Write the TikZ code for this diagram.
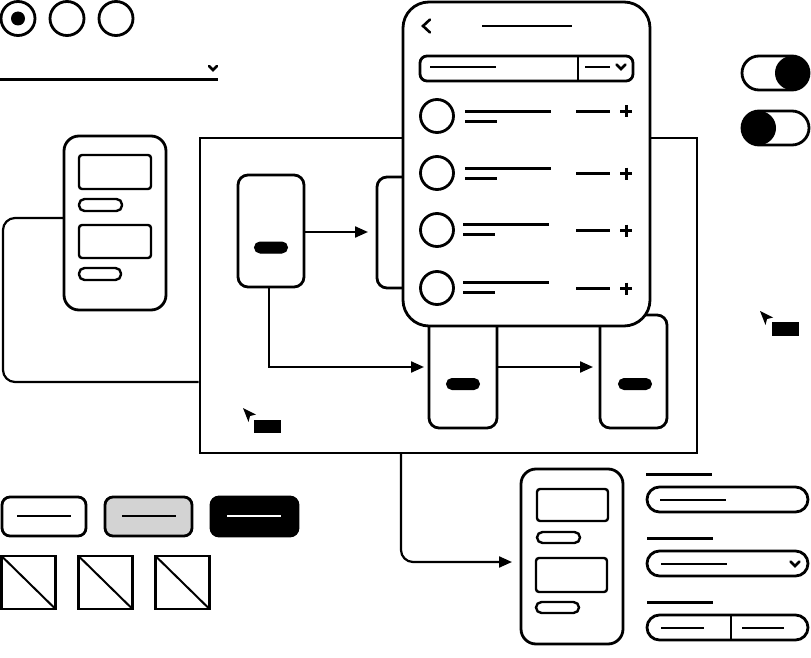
\documentclass[tikz,border=0pt]{standalone}
\usetikzlibrary{arrows.meta}
\begin{document}
\begin{tikzpicture}[x=1pt,y=-1pt,
  thick3/.style={line width=2.8pt},
  thin2/.style={line width=2.4pt},
  box/.style={draw, line width=2.8pt, fill=white, inner sep=0pt, outer sep=0pt},
  card/.style={box, rounded corners=10pt},
  phone/.style={box, rounded corners=15pt},
  panelbox/.style={box, rounded corners=26pt},
  inrect/.style={box, line width=2.4pt, rounded corners=3pt},
  inpill/.style={box, line width=2.4pt, rounded corners=5.5pt},
  blkpill/.style={draw, fill=black, line width=1pt, rounded corners=5.5pt, inner sep=0pt, minimum width=33pt, minimum height=11pt},
  conn/.style={line width=2.2pt, -{Triangle[length=13pt,width=11pt]}},
  plainconn/.style={line width=2.2pt},
  radio/.style={draw, circle, line width=2.8pt, minimum size=34pt, inner sep=0pt},
  field/.style={box, rounded corners=12.5pt, minimum width=161pt, minimum height=25pt},
  btn/.style={box, rounded corners=8pt, minimum height=39pt},
  imgbox/.style={box, minimum width=54pt, minimum height=53pt},
  chev/.style={line width=2.6pt, line cap=round, line join=miter}
]
\useasboundingbox (0,0) rectangle (811,658);

% radio buttons
\node[radio] (r1) at (18,18.5) {};
\node[radio] (r2) at (67,18.5) {};
\node[radio] (r3) at (116,18.5) {};
\fill (r1.center) circle (7pt);

% underline dropdown
\draw[thick3] (0,79.5) -- (218,79.5);
\draw[chev] (209,66) -- (213,70) -- (217,66);

% toggles
\node[box, rounded corners=17pt, minimum width=67pt, minimum height=34pt] (t1) at (775.5,73) {};
\fill (792,73) circle (17pt);
\node[box, rounded corners=17pt, minimum width=67pt, minimum height=34pt] (t2) at (775.5,128) {};
\fill (759,128) circle (17pt);

% main frame
\node[draw, line width=2.8pt, inner sep=0pt, minimum width=497pt, minimum height=315pt] (F) at (448.5,295.5) {};

% left phone
\node[phone, minimum width=102pt, minimum height=174pt] (LP) at (115,223) {};
\node[inrect, minimum width=72pt, minimum height=34pt] (lr1) at (115,172) {};
\node[inpill, minimum width=43pt, minimum height=12pt] (lp1) at (100.5,205) {};
\node[inrect, minimum width=72pt, minimum height=33pt] (lr2) at (115,241.5) {};
\node[inpill, minimum width=42pt, minimum height=12pt] (lp2) at (100,274) {};

% connector left phone -> frame
\coordinate (lpc) at (64,218);
\draw[plainconn, rounded corners=12pt] (lpc) -- (3,218) -- (3,382) -- (F.west |- 0,382);

% cards inside frame
\node[card, minimum width=66pt, minimum height=112pt] (A) at (271,231) {};
\node[blkpill] at (271,247.5) {};
\node[card, minimum width=66pt, minimum height=111pt] (B) at (410,232.5) {};
\node[card, minimum width=68pt, minimum height=112pt] (C) at (463,372) {};
\node[blkpill] at (463,384) {};
\node[card, minimum width=67pt, minimum height=113pt] (D) at (633.5,371.5) {};
\node[blkpill] at (635,384) {};

\draw[conn, shorten >=9pt] (A.east |- 0,232) -- (B.west |- 0,232);
\draw[conn, shorten >=5pt] (269,287) |- (C.west |- 0,367);
\draw[conn, shorten >=7pt] (C.east |- 0,367) -- (D.west |- 0,367);

% cursors
\fill (760,311) -- (773,317.5) -- (767,319) -- (765.5,325) -- cycle;
\fill (772,322) rectangle (799,336);
\fill (243,408) -- (256,414.5) -- (250,416) -- (248.5,422) -- cycle;
\fill (254,420) rectangle (281,433);

% phone panel
\node[panelbox, minimum width=247pt, minimum height=324pt] (P) at (526.5,164) {};
\draw[chev] (430,19.5) -- (423,26) -- (430,32.5);
\draw[thick3] (482,26) -- (572,26);
\node[box, rounded corners=7pt, minimum width=213pt, minimum height=25pt] (S) at (526.5,68.5) {};
\draw[thick3] (578,56) -- (578,81);
\draw[thick3] (430,67) -- (496,67);
\draw[thick3] (585,67) -- (610,67);
\draw[chev] (616.5,64.5) -- (621,69) -- (625.5,64.5);

% list rows
\foreach \y/\a/\b/\c/\d in {116/111.5/121.5/0/111.5, 173/168.5/178.5/0/173.5, 230/224.5/234.5/2/230.5, 288/282.5/292.5/2/288.5}{
  \draw[thick3] (437,\y) circle (16.5pt);
  \draw[thick3] (465-\c,\a) -- (551-\c,\a);
  \draw[thick3] (465-\c,\b) -- (497-\c,\b);
  \draw[thick3] (576,\d) -- (610,\d);
  \draw[line width=3pt] (620,\d) -- (632,\d) (626,\d-6) -- (626,\d+6);
}

% connector frame -> bottom phone
\node[phone, minimum width=102pt, minimum height=175pt] (BP) at (572,556.5) {};
\node[inrect, minimum width=71pt, minimum height=32pt] (br1) at (572.5,505) {};
\node[inpill, minimum width=43pt, minimum height=11pt] (bp1) at (558.5,537.5) {};
\node[inrect, minimum width=71pt, minimum height=34pt] (br2) at (571.5,575) {};
\node[inpill, minimum width=43pt, minimum height=11pt] (bp2) at (557.5,607.5) {};
\coordinate (fb) at (401,453);
\draw[conn, rounded corners=12pt, shorten >=9pt] (fb) |- (BP.west |- 0,562);

% buttons
\node[btn, minimum width=84pt] (b1) at (44,516.5) {};
\draw[thin2] (17,516) -- (71,516);
\node[btn, minimum width=87pt, fill={rgb,255:red,211;green,211;blue,211}] (b2) at (148.5,516.5) {};
\draw[thin2] (122,516) -- (176,516);
\node[btn, minimum width=87pt, fill=black] (b3) at (254.5,516.5) {};
\draw[thin2, white] (227,516) -- (281,516);

% image placeholders
\foreach \cx/\n in {28.5/i1, 105.5/i2, 182.5/i3}{
  \node[imgbox] (\n) at (\cx,582.5) {};
  \draw[line width=2pt] (\n.north west) -- (\n.south east);
}

% form fields
\draw[thick3] (646,474.5) -- (712,474.5);
\node[field] (f1) at (727.5,499.5) {};
\draw[thick3] (660,500) -- (726,500);
\draw[thick3] (647,538.5) -- (713,538.5);
\node[field] (f2) at (727.5,563.5) {};
\draw[thick3] (661,564) -- (727,564);
\draw[chev] (790.5,561.5) -- (795,566) -- (799.5,561.5);
\draw[thick3] (647,602.5) -- (713,602.5);
\node[field] (f3) at (727.5,627.5) {};
\draw[thick3] (731,615) -- (731,640);
\draw[thick3] (661,628) -- (704,628);
\draw[thick3] (742,628) -- (784,628);
\end{tikzpicture}
\end{document}
